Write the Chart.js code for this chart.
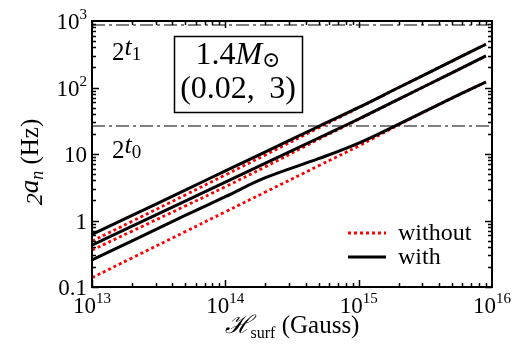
<!DOCTYPE html>
<html>
<head>
<meta charset="utf-8">
<script src="https://cdn.jsdelivr.net/npm/chart.js@4"></script>
<style>
  html, body { margin: 0; padding: 0; background: #fff; }
  #wrap { width: 526px; height: 351px; position: relative; }
</style>
</head>
<body>
<div id="wrap"><canvas id="chart"></canvas></div>
<script>
// surface field (Gauss)
const fieldValues = [1e13, 2e13, 5e13, 1e14, 2e14, 5e14, 1e15, 2e15, 5e15, 9e15];
// 2a_n (Hz), three pairs of curves
const withTop = [0.617, 1.19, 2.87, 5.56, 10.8, 25.9, 50.1, 100, 249, 447];
const withoutTop = [0.490, 0.971, 2.42, 4.84, 9.70, 24.7, 49.5, 100, 249, 447];
const withMid = [0.427, 0.822, 1.96, 3.78, 7.29, 17.4, 33.6, 66.8, 166, 298];
const withoutMid = [0.359, 0.692, 1.65, 3.22, 6.43, 16.6, 33.2, 66.8, 166, 298];
const withLow = [0.255, 0.494, 1.19, 2.28, 4.4, 8.5, 14.6, 28.2, 69.2, 121];
const withoutLow = [0.138, 0.274, 0.679, 1.35, 2.68, 6.64, 13.2, 27.5, 69.2, 121];
// dash-dot levels 2^t1 and 2^t0
const levels = [870, 26.4];
const levelSpan = [1e13, 1e16];

const xTickExp = [13, 14, 15, 16];
const yTicks = [0.1, 1, 10, 100, 1000];
const yTickLabels = [['0.1'], ['1'], ['10'], ['10', '2'], ['10', '3']];

const SERIF = "'Liberation Serif', 'DejaVu Serif', serif";

function pts(ys) {
  return fieldValues.map((v, i) => ({ x: v, y: ys[i] }));
}

const solid = { borderColor: '#000', borderWidth: 3, pointRadius: 0, fill: false, tension: 0.4 };
const dotted = { borderColor: '#ff0000', borderWidth: 2.8, borderDash: [3, 3], pointRadius: 0, fill: false, tension: 0.4 };

const datasets = [
  { ...solid, label: 'with', data: pts(withTop) },
  { ...solid, label: 'with', data: pts(withMid) },
  { ...solid, label: 'with', data: pts(withLow) },
  { ...dotted, label: 'without', data: pts(withoutTop) },
  { ...dotted, label: 'without', data: pts(withoutMid) },
  { ...dotted, label: 'without', data: pts(withoutLow) }
];
levels.forEach(l => {
  datasets.push({
    label: 'level', data: levelSpan.map(x => ({ x: x, y: l })),
    borderColor: '#555', borderWidth: 1.5, borderDash: [13, 4, 3, 4], pointRadius: 0, fill: false
  });
});

// draw a run of text pieces: [text, font, dy]
function drawRun(ctx, parts, x, y, align) {
  let total = 0;
  parts.forEach(p => { ctx.font = p[1]; total += ctx.measureText(p[0]).width; });
  let cx = align === 'center' ? x - total / 2 : align === 'right' ? x - total : x;
  ctx.textAlign = 'left';
  ctx.textBaseline = 'alphabetic';
  parts.forEach(p => {
    ctx.font = p[1];
    ctx.fillText(p[0], cx, y + (p[2] || 0));
    cx += ctx.measureText(p[0]).width;
  });
  return total;
}

const decor = {
  id: 'decor',
  afterDraw(chart) {
    const { ctx, chartArea: a, scales: { x, y } } = chart;
    ctx.save();
    ctx.strokeStyle = '#000';
    ctx.fillStyle = '#000';
    ctx.lineWidth = 1.5;

    // x ticks (top and bottom, inward)
    ctx.beginPath();
    for (let e = 13; e < 16; e++) {
      for (let m = 1; m <= 9; m++) {
        const px = Math.round(x.getPixelForValue(m * Math.pow(10, e))) + 0.5;
        const len = m === 1 ? 7 : 4;
        ctx.moveTo(px, a.bottom); ctx.lineTo(px, a.bottom - len);
        ctx.moveTo(px, a.top); ctx.lineTo(px, a.top + len);
      }
    }
    // y ticks (left and right, inward)
    for (let e = -1; e < 3; e++) {
      for (let m = 1; m <= 9; m++) {
        const py = Math.round(y.getPixelForValue(m * Math.pow(10, e))) + 0.5;
        const len = m === 1 ? 7 : 4;
        ctx.moveTo(a.left, py); ctx.lineTo(a.left + len, py);
        ctx.moveTo(a.right, py); ctx.lineTo(a.right - len, py);
      }
    }
    ctx.stroke();

    // frame
    ctx.lineWidth = 2;
    ctx.strokeRect(a.left, a.top, a.right - a.left, a.bottom - a.top);

    // x tick labels
    xTickExp.forEach(e => {
      const px = x.getPixelForValue(Math.pow(10, e));
      drawRun(ctx, [['10', '23px ' + SERIF], [String(e), '15px ' + SERIF, -10]], px, a.bottom + 26, 'center');
    });
    // y tick labels
    yTicks.forEach((v, i) => {
      const py = y.getPixelForValue(v);
      const lab = yTickLabels[i];
      const parts = [[lab[0], '23px ' + SERIF]];
      if (lab[1]) parts.push([lab[1], '15px ' + SERIF, -10]);
      drawRun(ctx, parts, a.left - 5, py + 8, 'right');
    });

    // axis titles
    drawRun(ctx, [['\u210B', 'italic 25px ' + SERIF], ['surf', '16px ' + SERIF, 5], [' (Gauss)', '25px ' + SERIF]],
      (a.left + a.right) / 2, 333, 'center');
    ctx.save();
    ctx.translate(38, 162);
    ctx.rotate(-Math.PI / 2);
    drawRun(ctx, [['2', 'italic 24px ' + SERIF, 4], ['a', 'italic 27px ' + SERIF], ['n', 'italic 18px ' + SERIF, 5], [' (Hz)', '25px ' + SERIF]], 0, 0, 'center');
    ctx.restore();

    // level labels
    drawRun(ctx, [['2', '25px ' + SERIF], ['t', 'italic 26px ' + SERIF, -5], ['1', '19px ' + SERIF]], 112, 60, 'left');
    drawRun(ctx, [['2', '25px ' + SERIF], ['t', 'italic 26px ' + SERIF, -5], ['0', '19px ' + SERIF]], 112, 158, 'left');

    // box
    ctx.lineWidth = 1.5;
    ctx.strokeRect(174.5, 36.5, 128, 76);
    drawRun(ctx, [['1.4', '32px ' + SERIF], ['M', 'italic 32px ' + SERIF], ['\u2299', '22px ' + SERIF, 3]], 238, 64, 'center');
    drawRun(ctx, [['(0.02,\u2009 3)', '32px ' + SERIF]], 238, 98, 'center');

    // legend
    ctx.lineWidth = 2.8;
    ctx.strokeStyle = '#ff0000';
    ctx.setLineDash([3, 3]);
    ctx.beginPath(); ctx.moveTo(348, 233); ctx.lineTo(386, 233); ctx.stroke();
    ctx.setLineDash([]);
    ctx.strokeStyle = '#000';
    ctx.lineWidth = 3;
    ctx.beginPath(); ctx.moveTo(348, 257); ctx.lineTo(386, 257); ctx.stroke();
    drawRun(ctx, [['without', '24px ' + SERIF]], 398, 240, 'left');
    drawRun(ctx, [['with', '24px ' + SERIF]], 398, 264, 'left');

    ctx.restore();
  }
};

new Chart(document.getElementById('chart').getContext('2d'), {
  type: 'scatter',
  data: { datasets: datasets },
  options: {
    responsive: true,
    maintainAspectRatio: false,
    animation: false,
    showLine: true,
    layout: { padding: { left: 92, top: 21, right: 34, bottom: 64 } },
    plugins: { legend: { display: false }, tooltip: { enabled: false } },
    scales: {
      x: { type: 'logarithmic', min: 1e13, max: 1e16, display: false },
      y: { type: 'logarithmic', min: 0.1, max: 1000, display: false }
    }
  },
  plugins: [decor]
});
</script>
</body>
</html>
